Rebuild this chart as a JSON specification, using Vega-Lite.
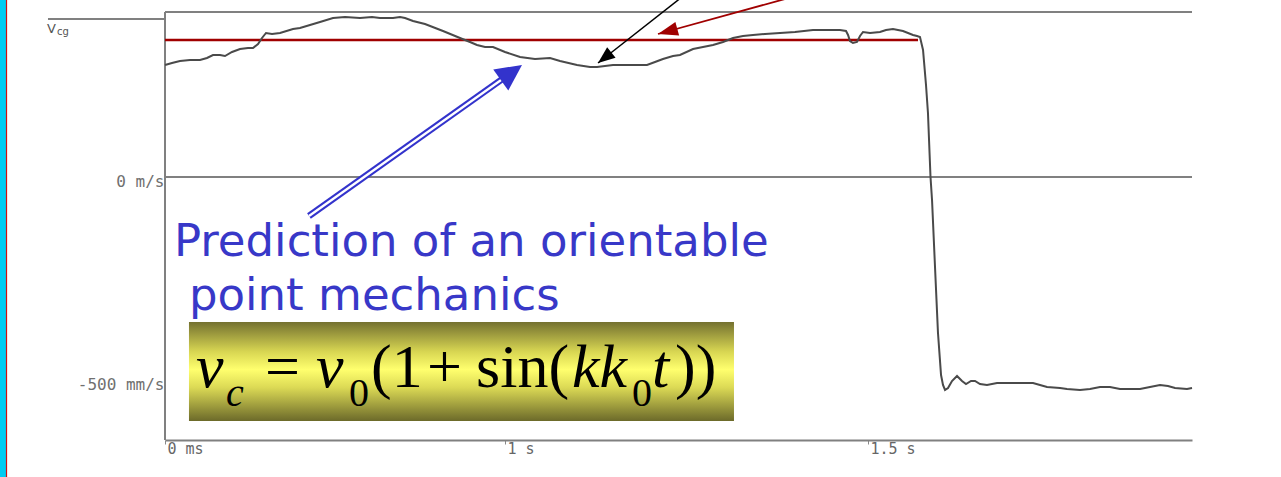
{
  "$schema": "https://vega.github.io/schema/vega-lite/v6.json",
  "width": 1027,
  "height": 428,
  "autosize": {"type": "none"},
  "padding": {"left": 165, "top": 12, "right": 89, "bottom": 37},
  "background": "white",
  "config": {"view": {"stroke": null}},
  "datasets": {
    "curve": [
      {"t":0.5317,"v":275.9},{"t":0.5413,"v":280.8},{"t":0.5523,"v":285.7},{"t":0.5661,"v":288.2},{"t":0.5799,"v":288.2},{"t":0.5895,"v":293.1},{"t":0.5978,"v":300.5},{"t":0.6074,"v":300.5},{"t":0.6143,"v":298.0},{"t":0.6240,"v":307.9},{"t":0.6350,"v":315.3},{"t":0.6460,"v":317.7},{"t":0.6529,"v":317.7},{"t":0.6598,"v":327.6},{"t":0.6653,"v":342.4},{"t":0.6708,"v":354.7},{"t":0.6791,"v":352.2},{"t":0.6901,"v":354.7},{"t":0.7080,"v":364.5},{"t":0.7176,"v":367.0},{"t":0.7314,"v":374.4},{"t":0.7452,"v":381.8},{"t":0.7631,"v":391.6},{"t":0.7796,"v":394.1},{"t":0.8003,"v":391.6},{"t":0.8168,"v":394.1},{"t":0.8278,"v":391.6},{"t":0.8457,"v":391.6},{"t":0.8554,"v":394.1},{"t":0.8623,"v":391.6},{"t":0.8733,"v":384.2},{"t":0.8898,"v":376.9},{"t":0.9146,"v":359.6},{"t":0.9380,"v":342.4},{"t":0.9518,"v":332.5},{"t":0.9614,"v":325.1},{"t":0.9725,"v":320.2},{"t":0.9835,"v":320.2},{"t":1.0000,"v":307.9},{"t":1.0207,"v":295.6},{"t":1.0413,"v":290.6},{"t":1.0620,"v":293.1},{"t":1.0758,"v":285.7},{"t":1.0992,"v":275.9},{"t":1.1171,"v":270.9},{"t":1.1267,"v":270.9},{"t":1.1377,"v":273.4},{"t":1.1488,"v":275.9},{"t":1.1722,"v":275.9},{"t":1.1956,"v":275.9},{"t":1.2066,"v":283.3},{"t":1.2176,"v":290.6},{"t":1.2314,"v":298.0},{"t":1.2410,"v":300.5},{"t":1.2590,"v":315.3},{"t":1.2727,"v":320.2},{"t":1.2865,"v":325.1},{"t":1.3003,"v":332.5},{"t":1.3141,"v":342.4},{"t":1.3278,"v":347.3},{"t":1.3416,"v":349.8},{"t":1.3581,"v":352.2},{"t":1.3788,"v":354.7},{"t":1.3994,"v":357.1},{"t":1.4242,"v":362.1},{"t":1.4408,"v":362.1},{"t":1.4614,"v":362.1},{"t":1.4697,"v":359.6},{"t":1.4725,"v":349.8},{"t":1.4752,"v":335.0},{"t":1.4793,"v":330.1},{"t":1.4848,"v":332.5},{"t":1.4890,"v":347.3},{"t":1.4931,"v":357.1},{"t":1.5028,"v":354.7},{"t":1.5165,"v":357.1},{"t":1.5248,"v":362.1},{"t":1.5344,"v":364.5},{"t":1.5482,"v":359.6},{"t":1.5620,"v":349.8},{"t":1.5675,"v":347.3},{"t":1.5716,"v":344.8},{"t":1.5758,"v":312.8},{"t":1.5799,"v":226.6},{"t":1.5826,"v":157.6},{"t":1.5861,"v":0},{"t":1.5882,"v":-56.7},{"t":1.5923,"v":-221.7},{"t":1.5964,"v":-384.2},{"t":1.6006,"v":-487.7},{"t":1.6033,"v":-512.3},{"t":1.6061,"v":-524.6},{"t":1.6102,"v":-519.7},{"t":1.6157,"v":-502.5},{"t":1.6226,"v":-490.2},{"t":1.6295,"v":-502.5},{"t":1.6350,"v":-509.9},{"t":1.6419,"v":-502.5},{"t":1.6474,"v":-502.5},{"t":1.6543,"v":-509.9},{"t":1.6639,"v":-512.3},{"t":1.6777,"v":-507.4},{"t":1.6956,"v":-507.4},{"t":1.7273,"v":-507.4},{"t":1.7369,"v":-512.3},{"t":1.7466,"v":-517.3},{"t":1.7645,"v":-519.7},{"t":1.7741,"v":-522.2},{"t":1.7920,"v":-524.6},{"t":1.8058,"v":-522.2},{"t":1.8196,"v":-517.3},{"t":1.8333,"v":-517.3},{"t":1.8471,"v":-522.2},{"t":1.8609,"v":-522.2},{"t":1.8747,"v":-522.2},{"t":1.8884,"v":-517.3},{"t":1.9022,"v":-512.3},{"t":1.9132,"v":-514.8},{"t":1.9229,"v":-519.7},{"t":1.9394,"v":-522.2},{"t":1.9463,"v":-519.7}
    ],
    "hgrid": [
      {"t":0.53168,"t2":1.94628,"v":406.4},
      {"t":0.53168,"t2":1.94628,"v":0},
      {"t":0.3705,"t2":0.53168,"v":389.2}
    ],
    "vgrid": [{"t":0.53168,"v":-647.8,"v2":406.4}],
    "redline": [{"t":0.53168,"t2":1.5689,"v":337.4}],
    "cyanbar": [{"t":0.3044,"t2":0.3127,"v":436.0,"v2":-738.9}],
    "redborder": [{"t":0.3134,"v":436.0,"v2":-738.9}],
    "blackShaft": [{"t":1.2438,"v":443.4,"t2":1.1281,"v2":280.8}],
    "blackHead": [{"t":1.1281,"v":280.8}],
    "redShaft": [{"t":1.3857,"v":438.4,"t2":1.2107,"v2":352.2}],
    "redHead": [{"t":1.2107,"v":352.2}],
    "blueShaft": [{"t":0.7300,"v":-96.1,"t2":1.0000,"v2":245.8}],
    "blueHead": [{"t":1.0234,"v":275.9}],
    "note": [
      {"label":"Prediction of an orientable","t":0.5441,"v":-194.6},
      {"label":"point mechanics","t":0.5647,"v":-327.6}
    ],
    "box": [{"t":0.5647,"t2":1.3154,"v":-357.1,"v2":-601.0}],
    "mainReg": [
      {"label":"=","t":0.6694,"v":-517.3},
      {"label":"(1","t":0.8154,"v":-517.3},
      {"label":"+","t":0.8926,"v":-517.3},
      {"label":"sin(","t":0.9601,"v":-517.3},
      {"label":"))","t":1.2342,"v":-517.3}
    ],
    "mainIt": [
      {"label":"v","t":0.5744,"v":-517.3},
      {"label":"v","t":0.7397,"v":-517.3},
      {"label":"kk","t":1.0923,"v":-517.3},
      {"label":"t","t":1.2025,"v":-517.3}
    ],
    "subIt": [{"label":"c","t":0.6157,"v":-564.1}],
    "subReg": [
      {"label":"0","t":0.7851,"v":-564.1},
      {"label":"0","t":1.1749,"v":-564.1}
    ],
    "vcgMain": [{"label":"V","t":0.3691,"v":354.7}],
    "vcgSub": [{"label":"cg","t":0.3830,"v":349.8}]
  },
  "encoding": {
    "x": {
      "field": "t", "type": "quantitative",
      "scale": {"domain": [0.53168, 1.94628], "nice": false, "zero": false},
      "axis": {
        "title": null, "grid": false,
        "values": [0.53168, 1, 1.5],
        "labelExpr": "datum.value < 0.7 ? '0 ms' : (datum.value < 1.2 ? '1 s' : '1.5 s')",
        "labelAlign": "left", "labelBaseline": "top", "labelOffset": 2, "labelPadding": -3,
        "tickSize": 4, "tickColor": "#888888", "tickWidth": 1,
        "domainColor": "#808080", "domainWidth": 2,
        "labelFont": "DejaVu Sans Mono", "labelFontSize": 15, "labelColor": "#666666",
        "labelFlush": false, "labelOverlap": false, "labelBound": false
      }
    },
    "y": {
      "field": "v", "type": "quantitative",
      "scale": {"domain": [-647.8, 406.4], "nice": false, "zero": false},
      "axis": {
        "title": null, "grid": false, "domain": false, "ticks": false,
        "values": [0, -500],
        "labelExpr": "datum.value == 0 ? '0 m/s' : '-500 mm/s'",
        "labelPadding": 1, "labelBaseline": "middle", "labelOffset": 5,
        "labelFont": "DejaVu Sans Mono", "labelFontSize": 16, "labelColor": "#707070",
        "labelOverlap": false, "labelBound": false, "labelFlush": false
      }
    }
  },
  "layer": [
    {"data": {"name": "cyanbar"}, "mark": {"type": "rect", "color": "#00ccf2", "clip": false},
     "encoding": {"x2": {"field": "t2"}, "y2": {"field": "v2"}}},
    {"data": {"name": "redborder"}, "mark": {"type": "rule", "color": "#cc1111", "strokeWidth": 1.2},
     "encoding": {"y2": {"field": "v2"}}},
    {"data": {"name": "hgrid"}, "mark": {"type": "rule", "color": "#808080", "strokeWidth": 2},
     "encoding": {"x2": {"field": "t2"}}},
    {"data": {"name": "vgrid"}, "mark": {"type": "rule", "color": "#808080", "strokeWidth": 2},
     "encoding": {"y2": {"field": "v2"}}},
    {"data": {"name": "redline"}, "mark": {"type": "rule", "color": "#a00000", "strokeWidth": 2.5},
     "encoding": {"x2": {"field": "t2"}}},
    {"data": {"name": "curve"}, "mark": {"type": "line", "color": "#4a4a4a", "strokeWidth": 2, "interpolate": "linear"}},
    {"data": {"name": "blackShaft"}, "mark": {"type": "rule", "color": "#000000", "strokeWidth": 1.5},
     "encoding": {"x2": {"field": "t2"}, "y2": {"field": "v2"}}},
    {"data": {"name": "blackHead"}, "mark": {"type": "point", "shape": "M0,0L-0.4,1L0.4,1Z", "filled": true, "color": "#000000", "opacity": 1, "size": 1156, "angle": 231.8, "strokeWidth": 0}},
    {"data": {"name": "redShaft"}, "mark": {"type": "rule", "color": "#a00000", "strokeWidth": 1.8},
     "encoding": {"x2": {"field": "t2"}, "y2": {"field": "v2"}}},
    {"data": {"name": "redHead"}, "mark": {"type": "point", "shape": "M0,0L-0.35,1L0.35,1Z", "filled": true, "color": "#a00000", "opacity": 1, "size": 1600, "angle": 254.6, "strokeWidth": 0}},
    {"data": {"name": "blueShaft"}, "mark": {"type": "rule", "color": "#3333cc", "strokeWidth": 6.5},
     "encoding": {"x2": {"field": "t2"}, "y2": {"field": "v2"}}},
    {"data": {"name": "blueShaft"}, "mark": {"type": "rule", "color": "#ffffff", "strokeWidth": 2.3},
     "encoding": {"x2": {"field": "t2"}, "y2": {"field": "v2"}}},
    {"data": {"name": "blueHead"}, "mark": {"type": "point", "shape": "M0,0L-0.5,1L0.5,1Z", "filled": true, "color": "#3333cc", "opacity": 1, "size": 2704, "angle": 54.7, "strokeWidth": 0}},
    {"data": {"name": "note"}, "mark": {"type": "text", "align": "left", "baseline": "alphabetic", "font": "DejaVu Sans", "fontSize": 45, "color": "#3838c8"},
     "encoding": {"text": {"field": "label"}}},
    {"data": {"name": "box"}, "mark": {"type": "rect", "color": {"gradient": "linear", "x1": 0, "y1": 0, "x2": 0, "y2": 1,
      "stops": [{"offset": 0, "color": "#747130"}, {"offset": 0.3, "color": "#d8d652"}, {"offset": 0.48, "color": "#ffff6e"}, {"offset": 0.66, "color": "#dcda55"}, {"offset": 1, "color": "#6c6a2a"}]}},
     "encoding": {"x2": {"field": "t2"}, "y2": {"field": "v2"}}},
    {"data": {"name": "mainReg"}, "mark": {"type": "text", "align": "left", "baseline": "alphabetic", "font": "Liberation Serif", "fontSize": 62, "color": "#000000"},
     "encoding": {"text": {"field": "label"}}},
    {"data": {"name": "mainIt"}, "mark": {"type": "text", "align": "left", "baseline": "alphabetic", "font": "Liberation Serif", "fontStyle": "italic", "fontSize": 62, "color": "#000000"},
     "encoding": {"text": {"field": "label"}}},
    {"data": {"name": "subIt"}, "mark": {"type": "text", "align": "left", "baseline": "alphabetic", "font": "Liberation Serif", "fontStyle": "italic", "fontSize": 40, "color": "#000000"},
     "encoding": {"text": {"field": "label"}}},
    {"data": {"name": "subReg"}, "mark": {"type": "text", "align": "left", "baseline": "alphabetic", "font": "Liberation Serif", "fontSize": 40, "color": "#000000"},
     "encoding": {"text": {"field": "label"}}},
    {"data": {"name": "vcgMain"}, "mark": {"type": "text", "align": "left", "baseline": "alphabetic", "font": "DejaVu Sans", "fontSize": 13, "color": "#555555"},
     "encoding": {"text": {"field": "label"}}},
    {"data": {"name": "vcgSub"}, "mark": {"type": "text", "align": "left", "baseline": "alphabetic", "font": "DejaVu Sans", "fontSize": 10, "color": "#555555"},
     "encoding": {"text": {"field": "label"}}}
  ]
}
